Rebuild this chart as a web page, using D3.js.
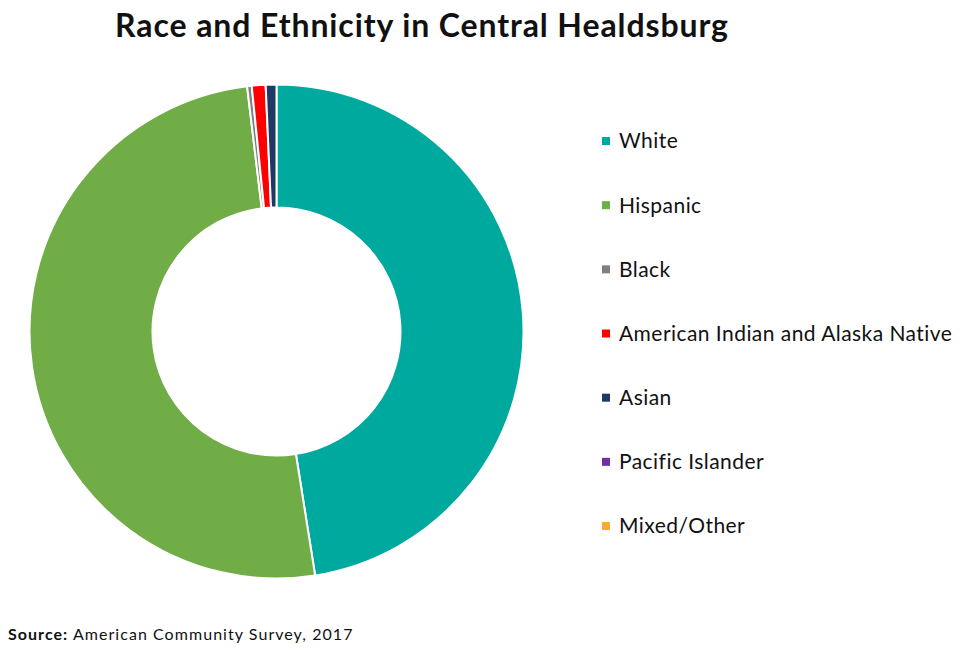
<!DOCTYPE html>
<html>
<head>
<meta charset="utf-8">
<script src="https://cdn.jsdelivr.net/npm/d3@7"></script>
<style>
  body { margin: 0; background: #fff; }
  svg { display: block; }
</style>
</head>
<body>
<svg id="chart" width="965" height="650"></svg>
<script>
const categories = ["White", "Hispanic", "Black", "American Indian and Alaska Native", "Asian", "Pacific Islander", "Mixed/Other"];
const values = [47.5, 50.6, 0.3, 0.9, 0.7, 0, 0];
const colors = ["#00A99D", "#70AD47", "#808080", "#FF0000", "#1F3864", "#7030A0", "#F5AD2B"];
const title = "Race and Ethnicity in Central Healdsburg";
const sourceLabel = "Source:";
const sourceText = " American Community Survey, 2017";

const svg = d3.select("#chart");
const cx = 276.5, cy = 331.5, rOuter = 247, rInner = 124;

const data = categories.map((c, i) => ({ name: c, value: values[i] }));
const color = d3.scaleOrdinal().domain(categories).range(colors);

const pie = d3.pie().sort(null).value(d => d.value);
const arc = d3.arc().innerRadius(rInner).outerRadius(rOuter);

svg.append("g")
  .attr("transform", `translate(${cx},${cy})`)
  .selectAll("path")
  .data(pie(data).filter(d => d.data.value > 0))
  .join("path")
  .attr("d", arc)
  .attr("fill", d => color(d.data.name))
  .attr("stroke", "#fff")
  .attr("stroke-width", 2);

svg.append("text")
  .attr("x", 422).attr("y", 37)
  .attr("text-anchor", "middle")
  .attr("font-family", "Lato, sans-serif")
  .attr("font-weight", "bold")
  .attr("font-size", 32)
  .attr("letter-spacing", 0.9)
  .attr("fill", "#111")
  .text(title);

const legendY = d3.scalePoint().domain(categories).range([141, 526]);
const lg = svg.append("g");
const item = lg.selectAll("g").data(categories).join("g")
  .attr("transform", d => `translate(602,${legendY(d)})`);
item.append("rect")
  .attr("x", 0).attr("y", -4).attr("width", 8).attr("height", 8)
  .attr("fill", d => color(d));
item.append("text")
  .attr("x", 17).attr("y", 0)
  .attr("dy", "0.35em")
  .attr("font-family", "Lato, sans-serif")
  .attr("font-size", 21)
  .attr("letter-spacing", 0.45)
  .attr("fill", "#111")
  .text(d => d);

const src = svg.append("text")
  .attr("x", 8).attr("y", 640)
  .attr("font-family", "Lato, sans-serif")
  .attr("font-size", 16)
  .attr("letter-spacing", 1.05)
  .attr("fill", "#111");
src.append("tspan").attr("font-weight", "bold").text(sourceLabel);
src.append("tspan").text(sourceText);
</script>
</body>
</html>
